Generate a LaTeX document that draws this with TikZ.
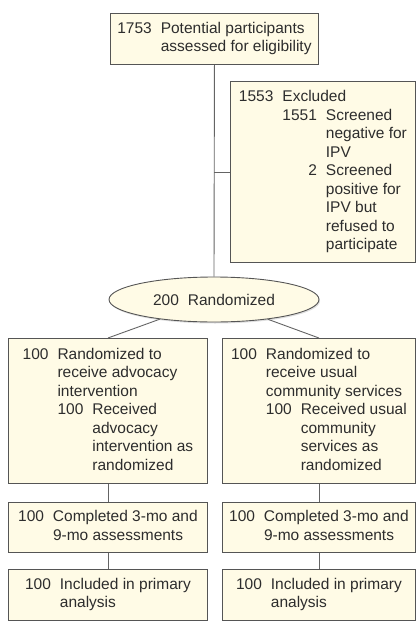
\documentclass[tikz,border=0pt]{standalone}
\usepackage{fontspec}
\setmainfont{Liberation Sans}
\usetikzlibrary{shapes.geometric,shadows}
\definecolor{boxfill}{RGB}{255,251,230}
\definecolor{boxline}{RGB}{85,85,85}
\definecolor{conn}{RGB}{100,100,100}
\definecolor{txt}{RGB}{45,45,45}
\newcommand{\gapnum}{\hspace{9pt}}
\newenvironment{itemtab}{\begin{tabular}[t]{@{}r@{\gapnum}l@{}}}{\end{tabular}}
\begin{document}
\begin{tikzpicture}[x=1pt,y=-1pt,
  every node/.style={font=\fontsize{15.5}{18.5}\selectfont, text=txt},
  fbox/.style={draw=boxline, line width=0.9pt, fill=boxfill, rectangle, inner sep=0pt, anchor=north west},
  conline/.style={draw=conn, line width=0.9pt}]
\useasboundingbox (0,0) rectangle (417,624);
\def\arraystretch{1}

% top box
\node[fbox, minimum width=208pt, minimum height=51pt] (top) at (110,13)
  {\begin{itemtab}1753 & Potential participants\\ & assessed for eligibility\end{itemtab}};

% excluded box
\node[fbox, minimum width=185pt, minimum height=181pt] (excl) at (230,81)
  {\begin{itemtab}1553 & Excluded\\
   & \begin{itemtab}1551 & Screened\\ & negative for\\ & IPV\\
     2 & Screened\\ & positive for\\ & IPV but\\ & refused to\\ & participate\end{itemtab}\end{itemtab}};

% randomized ellipse
\node[ellipse, draw=boxline, line width=0.9pt, fill=boxfill, minimum width=210pt, minimum height=45pt, inner sep=0pt,
  drop shadow={shadow xshift=1pt, shadow yshift=-1.5pt, opacity=0.25}] (rand) at (214,299.5)
  {200\gapnum Randomized};

% randomized arms
\node[fbox, minimum width=199pt, minimum height=145pt] (armL) at (8,338)
  {\begin{itemtab}100 & Randomized to\\ & receive advocacy\\ & intervention\\
   & \begin{itemtab}100 & Received\\ & advocacy\\ & intervention as\\ & randomized\end{itemtab}\end{itemtab}};
\node[fbox, minimum width=193pt, minimum height=145pt] (armR) at (222,338)
  {\begin{itemtab}100 & Randomized to\\ & receive usual\\ & community services\\
   & \begin{itemtab}100 & Received usual\\ & community\\ & services as\\ & randomized\end{itemtab}\end{itemtab}};

% completed
\node[fbox, minimum width=199pt, minimum height=50pt] (compL) at (8,502)
  {\begin{itemtab}100 & Completed 3-mo and\\ & 9-mo assessments\end{itemtab}};
\node[fbox, minimum width=193pt, minimum height=50pt] (compR) at (222,502)
  {\begin{itemtab}100 & Completed 3-mo and\\ & 9-mo assessments\end{itemtab}};

% included
\node[fbox, minimum width=199pt, minimum height=51pt] (inclL) at (8,569)
  {\begin{itemtab}100 & Included in primary\\ & analysis\end{itemtab}};
\node[fbox, minimum width=193pt, minimum height=51pt] (inclR) at (222,569)
  {\begin{itemtab}100 & Included in primary\\ & analysis\end{itemtab}};

% connectors
\coordinate (branch) at (top.south |- excl.west);
\draw[conline] (top.south) -- (rand.north);
\draw[conline] (branch) -- (excl.west);
\draw[conline] (rand) -- (armL.north);
\draw[conline] (rand) -- (armR.north);
\draw[conline] (armL.south) -- (compL.north);
\draw[conline] (armR.south) -- (compR.north);
\draw[conline] (compL.south) -- (inclL.north);
\draw[conline] (compR.south) -- (inclR.north);
\end{tikzpicture}
\end{document}
